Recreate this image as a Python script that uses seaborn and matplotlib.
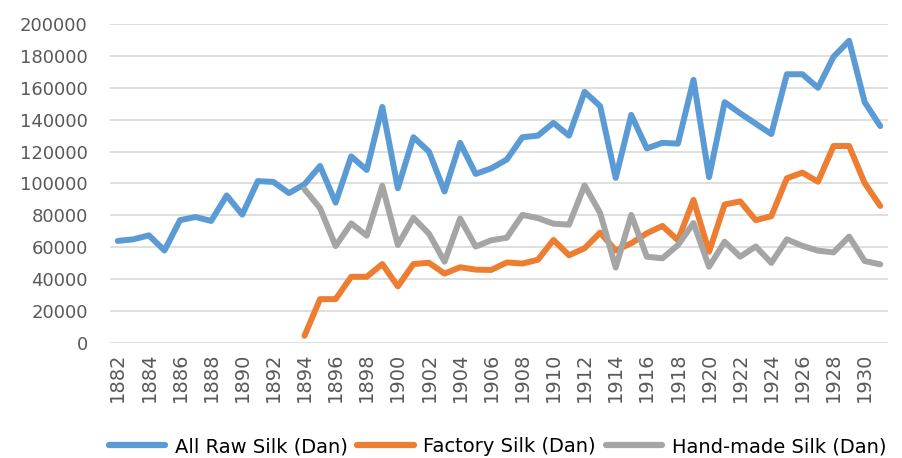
import numpy as np
import pandas as pd
import seaborn as sns
import matplotlib.pyplot as plt
from matplotlib.lines import Line2D

years = list(range(1882, 1932))

all_raw = [64000, 65000, 67500, 58000, 77000, 79000, 76500, 92500, 80500, 101500,
           101000, 94000, 99500, 111000, 88000, 117000, 108500, 148000, 97000, 129000,
           120000, 95000, 125500, 106000, 109500, 115000, 129000, 130000, 138000, 130000,
           157500, 148500, 103500, 143000, 122000, 125500, 125000, 165000, 104000, 151000,
           144000, 137500, 131000, 168500, 168500, 160000, 179500, 189500, 151000, 136000]

factory = [None] * 12 + [
           4500, 27500, 27500, 41500, 41500, 49500, 35500, 49500,
           50300, 43500, 47500, 46000, 45800, 50500, 49800, 52200, 64600, 55000,
           59400, 69200, 58000, 62500, 68800, 73400, 64400, 89700, 57200, 86800,
           88800, 77000, 79500, 103300, 106800, 101100, 123500, 123500, 100300, 85900]

hand_made = [None] * 12 + [
             96400, 84500, 60800, 75000, 67300, 98600, 61500, 78500,
             68500, 51000, 78000, 60500, 64400, 66000, 80300, 78300, 74800, 74200,
             98800, 81500, 47300, 80300, 54100, 53100, 61400, 75200, 47800, 63500,
             54100, 60500, 50200, 65000, 60900, 57900, 56800, 66700, 51400, 49300]

series = ["All Raw Silk (Dan)", "Factory Silk (Dan)", "Hand-made Silk (Dan)"]
colors = ["#5B9BD5", "#ED7D31", "#A5A5A5"]

df = pd.DataFrame({"Year": years, series[0]: all_raw, series[1]: factory, series[2]: hand_made})
long = df.melt(id_vars="Year", var_name="Series", value_name="Value").dropna()

sns.set_style("white")
plt.rcParams["font.family"] = ["DejaVu Sans"]

fig = plt.figure(figsize=(9.03, 4.58), dpi=100)
ax = fig.add_axes([0.1218, 0.2511, 0.8616, 0.6965])

sns.lineplot(data=long, x="Year", y="Value", hue="Series", hue_order=series,
             palette=colors, linewidth=4.3, ax=ax, legend=False)

ax.set_xlim(1881.5, 1931.5)
ax.set_ylim(0, 200000)
ax.set_yticks(np.arange(0, 200001, 20000))
ax.set_xticks(years[::2])
ax.set_xticklabels([str(y) for y in years[::2]], rotation=90)
ax.yaxis.grid(True, color="#D9D9D9", linewidth=1.2)
ax.xaxis.grid(False)
ax.set_axisbelow(True)
for s in ax.spines.values():
    s.set_visible(False)
ax.tick_params(axis="y", length=0, pad=16, labelsize=13, labelcolor="#595959")
ax.tick_params(axis="x", length=0, pad=7, labelsize=14, labelcolor="#595959")
ax.set_xlabel("")
ax.set_ylabel("")

handles = [Line2D([0], [0], color=c, linewidth=4.5) for c in colors]
fig.legend(handles, series, loc="center", bbox_to_anchor=(0.551, 0.025), ncol=3,
           frameon=False, fontsize=14, handlelength=2.9, handletextpad=0.5,
           columnspacing=0.5, labelcolor="black")

fig.savefig("out.png", dpi=100)
